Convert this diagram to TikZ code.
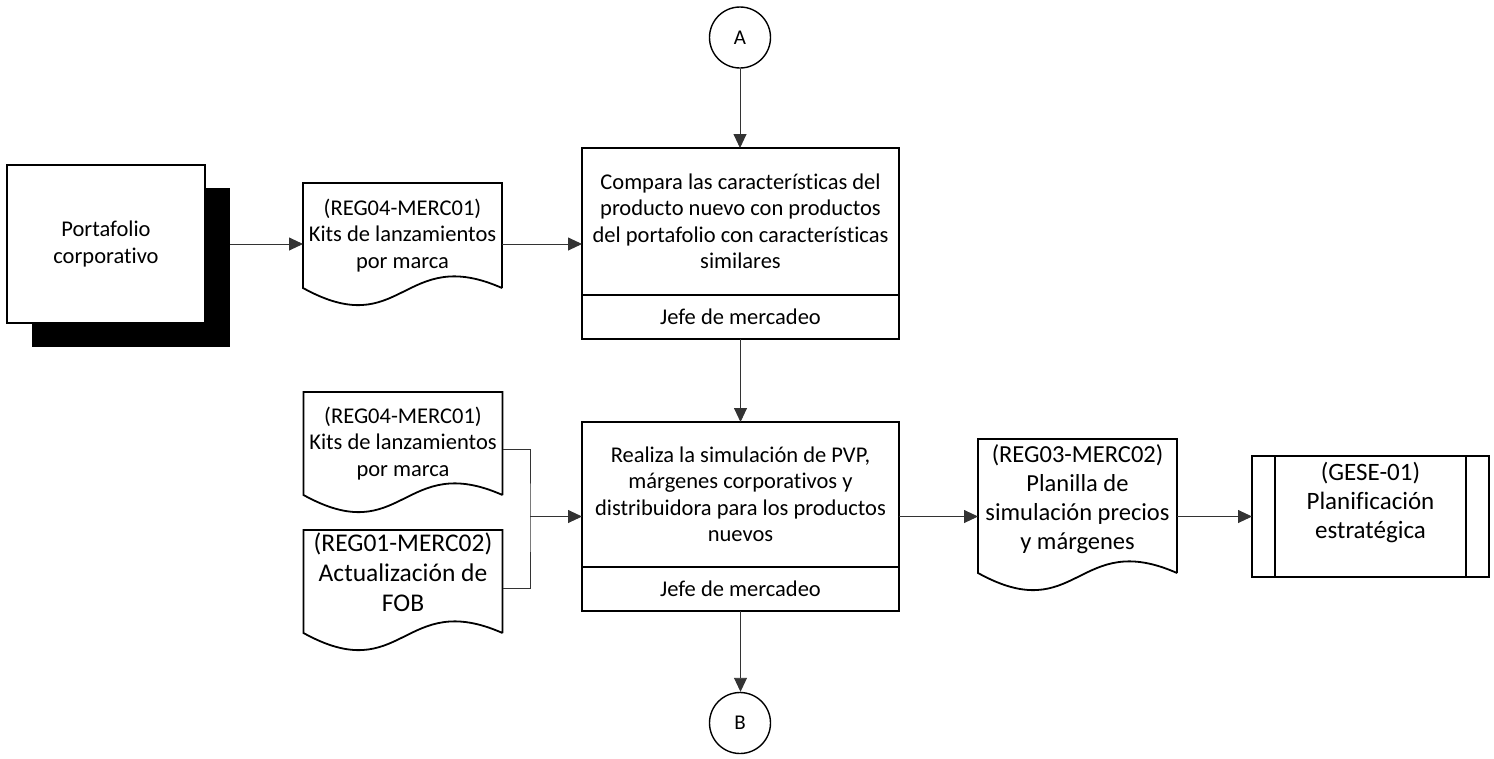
\documentclass[tikz,border=0pt]{standalone}
\usepackage{fontspec}
\setmainfont{Carlito}[Ligatures=NoCommon]
\usetikzlibrary{arrows.meta,positioning,calc}

% contorno de documento (borde inferior ondulado)
\newcommand{\contornodoc}[2][0]{%
  \draw[line width=1.8pt] ([yshift=-#1pt]#2.south east) -- (#2.north east) -- (#2.north west) -- ([yshift=-#1pt]#2.south west)
    .. controls +(99.5,55) and +(-99.5,-44) .. ([yshift=-#1pt]#2.south east);}

\begin{document}
\begin{tikzpicture}[x=1pt,y=-1pt,>={Triangle[length=14pt,width=13pt]},
    font=\fontsize{22.5}{26.5}\selectfont,
    caja/.style={draw,line width=1.8pt,minimum width=317pt,align=center,inner sep=0pt,outer sep=0pt},
    doc/.style={minimum width=199pt,align=center,inner sep=0pt,outer sep=0pt},
    conector/.style={draw,circle,line width=1.4pt,minimum size=61pt,inner sep=0pt,font=\fontsize{21}{24}\selectfont},
    linea/.style={line width=0.9pt,black!80},
    flecha/.style={linea,->}]
    \useasboundingbox (0,0) rectangle (1494,758);

    % entrada externa con sombra
    \node[fill=black,minimum width=198pt,minimum height=159pt,outer sep=0pt](sombra) at (131,267.5) {};
    \node[draw,fill=white,line width=1.8pt,minimum width=198pt,minimum height=158pt,align=center,outer sep=0pt](port) at (106,244) {Portafolio\\corporativo};

    \node[doc,minimum height=105pt](doc1) at (402.5,235.5) {(REG04-MERC01)\\Kits de lanzamientos\\por marca};
    \node[doc,minimum height=103pt](doc2) at (403,443.5) {(REG04-MERC01)\\Kits de lanzamientos\\por marca};
    \node[doc,minimum height=84pt,font=\fontsize{25.5}{30}\selectfont](doc3) at (403,572) {(REG01-MERC02)\\Actualizaci\'on de\\FOB};
    \node[doc,minimum height=120pt,font=\fontsize{24.5}{29}\selectfont](doc4) at (1077.5,499) {(REG03-MERC02)\\Planilla de\\simulaci\'on precios\\y m\'argenes};
    \contornodoc{doc1}
    \contornodoc{doc2}
    \contornodoc[19]{doc3}
    \contornodoc[14]{doc4}

    % actividades
    \node[conector](A) at (740,37.5) {A};
    \node[caja,minimum height=147pt](box1) at (740.5,221.5) {Compara las caracter\'isticas del\\producto nuevo con productos\\del portafolio con caracter\'isticas\\similares};
    \node[caja,minimum height=44pt,below=0pt of box1](rol1) {Jefe de mercadeo};
    \node[caja,minimum height=145pt](box2) at (740.5,494.5) {Realiza la simulaci\'on de PVP,\\m\'argenes corporativos y\\distribuidora para los productos\\nuevos};
    \node[caja,minimum height=44pt,below=0pt of box2](rol2) {Jefe de mercadeo};
    \node[conector](B) at (740,723) {B};

    % subproceso
    \node[draw,line width=1.8pt,minimum width=237pt,minimum height=121pt,outer sep=0pt,
        label={[yshift=14pt,align=center,font=\fontsize{25}{29}\selectfont]center:(GESE-01)\\Planificaci\'on\\estrat\'egica}](gese) at (1370.5,516.5) {};
    \draw[line width=1.8pt]([xshift=23pt]gese.north west)--([xshift=23pt]gese.south west);
    \draw[line width=1.8pt]([xshift=-23pt]gese.north east)--([xshift=-23pt]gese.south east);

    % flujos
    \coordinate(e2) at ($(box2.north west)!.5!(rol2.south west)$);
    \coordinate(junta) at (530,516.5);
    \draw[flecha](A)--(A |- box1.north);
    \draw[flecha](port.east -| sombra.east)--(port.east -| doc1.west);
    \draw[flecha](port.east -| doc1.east)--(port.east -| box1.west);
    \draw[flecha](rol1.south)--(box2.north);
    \draw[linea]([yshift=-6pt]doc2.east)-|(junta)|-([yshift=-16pt]doc3.east);
    \draw[flecha](junta)--(e2);
    \draw[flecha](e2 -| box2.east)--(e2 -| doc4.west);
    \draw[flecha](doc4.east |- gese.west)--(gese.west);
    \draw[flecha](rol2.south)--(rol2.south |- B.north);
\end{tikzpicture}
\end{document}
